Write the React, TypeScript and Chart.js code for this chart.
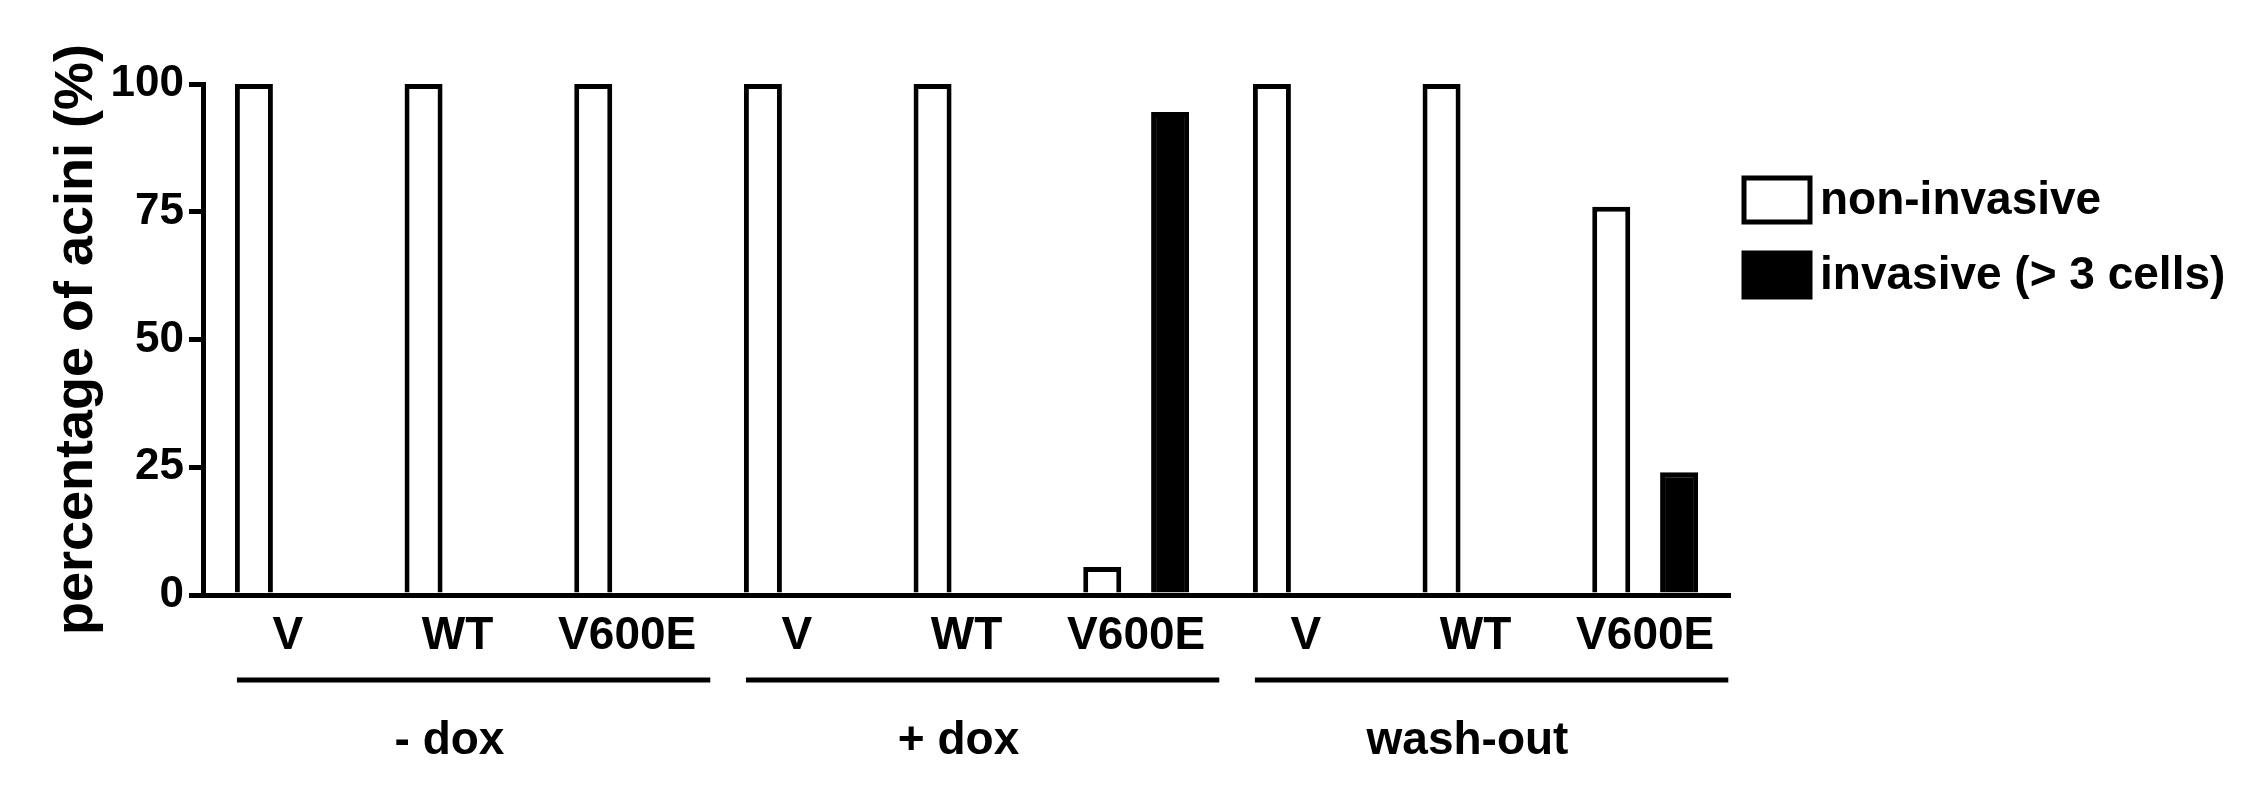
import React, { useEffect, useRef } from 'react';
import { Chart, registerables } from 'chart.js';

// Register Chart.js components
Chart.register(...registerables);

const categories = ['V', 'WT', 'V600E', 'V', 'WT', 'V600E', 'V', 'WT', 'V600E'];
const groups = ['- dox', '+ dox', 'wash-out'];
const groupSize = 3;
const seriesNames = ['non-invasive', 'invasive (> 3 cells)'];
const nonInvasive = [100, 100, 100, 100, 100, 5.5, 100, 100, 76];
const invasive = [0, 0, 0, 0, 0, 94.5, 0, 0, 24];
const yTicks = [0, 25, 50, 75, 100];

const FONT = "'Liberation Sans', Arial, Helvetica, sans-serif";

// group underlines + labels below the category ticks
const groupPlugin = {
  id: 'groupLabels',
  afterDraw(chart: any) {
    const { ctx } = chart;
    const x = chart.scales.x;
    const step = x.getPixelForValue(1) - x.getPixelForValue(0);
    const lineY = x.top + 85;
    const textY = x.top + 146;
    ctx.save();
    ctx.strokeStyle = '#000';
    ctx.fillStyle = '#000';
    ctx.lineWidth = 5;
    ctx.font = `bold 46px ${FONT}`;
    ctx.textAlign = 'center';
    ctx.textBaseline = 'middle';
    groups.forEach((g, i) => {
      const first = i * groupSize;
      const last = first + groupSize - 1;
      const x1 = x.getPixelForValue(first) - step * 0.3;
      const x2 = x.getPixelForValue(last) + step * 0.49;
      ctx.beginPath();
      ctx.moveTo(x1, lineY);
      ctx.lineTo(x2, lineY);
      ctx.stroke();
      ctx.fillText(g, x.getPixelForValue(first + 1) - 8, textY);
    });
    ctx.restore();
  },
};

// legend on the right, drawn from the datasets
const legendPlugin = {
  id: 'sideLegend',
  afterDraw(chart: any) {
    const { ctx, chartArea } = chart;
    const left = chartArea.right + 14;
    const boxW = 66;
    const boxH = 44;
    ctx.save();
    ctx.font = `bold 46px ${FONT}`;
    ctx.textAlign = 'left';
    ctx.textBaseline = 'middle';
    chart.data.datasets.forEach((ds: any, i: number) => {
      const top = 178 + i * 75;
      ctx.fillStyle = ds.backgroundColor;
      ctx.fillRect(left, top, boxW, boxH);
      ctx.strokeStyle = ds.borderColor;
      ctx.lineWidth = 5;
      ctx.strokeRect(left, top, boxW, boxH);
      ctx.fillStyle = '#000';
      ctx.fillText(ds.label, left + boxW + 10, top + boxH / 2 + 1);
    });
    ctx.restore();
  },
};

export default function App() {
  const chartRef = useRef<HTMLCanvasElement | null>(null);
  const chartInstanceRef = useRef<Chart | null>(null);

  useEffect(() => {
    if (!chartRef.current) return;
    if (chartInstanceRef.current) {
      chartInstanceRef.current.destroy();
    }
    const ctx = chartRef.current.getContext('2d');
    if (!ctx) return;

    chartInstanceRef.current = new Chart(ctx, {
      type: 'bar',
      data: {
        labels: categories,
        datasets: [
          {
            label: seriesNames[0],
            data: nonInvasive,
            backgroundColor: '#ffffff',
            borderColor: '#000000',
            borderWidth: 5,
            borderSkipped: 'start',
          },
          {
            label: seriesNames[1],
            data: invasive,
            backgroundColor: '#000000',
            borderColor: '#000000',
            borderWidth: 5,
            borderSkipped: 'start',
          },
        ],
      },
      options: {
        responsive: true,
        maintainAspectRatio: false,
        animation: false,
        categoryPercentage: 0.8,
        barPercentage: 0.56,
        layout: {
          padding: { left: 50, right: 523, top: 84, bottom: 116 },
        },
        plugins: {
          legend: { display: false },
          tooltip: { enabled: false },
        },
        scales: {
          x: {
            grid: { display: false, drawTicks: false },
            border: { display: true, color: '#000', width: 5 },
            ticks: {
              color: '#000',
              padding: 18,
              autoSkip: false,
              maxRotation: 0,
              font: { family: FONT, size: 46, weight: 'bold', lineHeight: 1 },
            },
          },
          y: {
            min: 0,
            max: 100,
            afterFit: (scale: any) => {
              scale.width = 153;
            },
            afterBuildTicks: (scale: any) => {
              scale.ticks = yTicks.map((v) => ({ value: v }));
            },
            grid: {
              drawOnChartArea: false,
              drawTicks: true,
              tickLength: 14,
              color: '#000',
              lineWidth: 5,
            },
            border: { display: true, color: '#000', width: 5 },
            ticks: {
              color: '#000',
              padding: 5,
              font: { family: FONT, size: 44, weight: 'bold', lineHeight: 1 },
            },
            title: {
              display: true,
              text: 'percentage of acini (%)',
              color: '#000',
              padding: 0,
              font: { family: FONT, size: 54, weight: 'bold', lineHeight: 1 },
            },
          },
        },
      },
      plugins: [groupPlugin, legendPlugin],
    });

    return () => {
      if (chartInstanceRef.current) {
        chartInstanceRef.current.destroy();
        chartInstanceRef.current = null;
      }
    };
  }, []);

  return (
    <div style={{ position: 'fixed', left: 0, top: 0, width: 2253, height: 793, background: '#fff' }}>
      <canvas ref={chartRef} />
    </div>
  );
}
